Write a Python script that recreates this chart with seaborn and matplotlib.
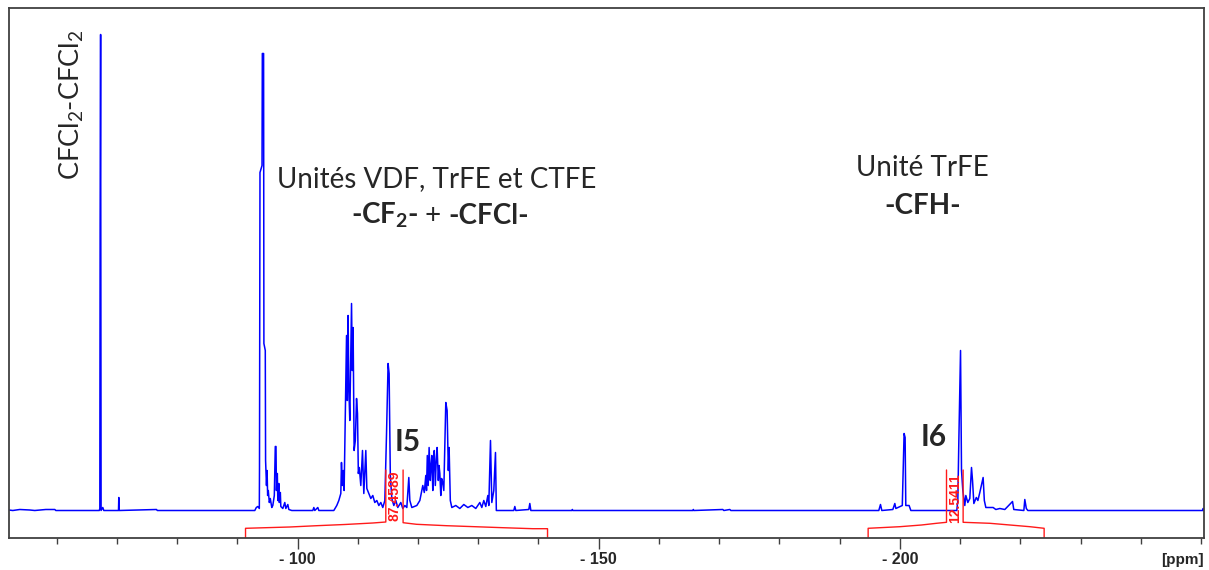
import seaborn as sns
import matplotlib.pyplot as plt

# 19F NMR spectrum (ppm, intensity above baseline)
shift_ppm = [
    -52.07, -52.73, -53.89, -55.55, -56.38, -58.21, -59.71, -59.87,
    -67.09, -67.18, -67.23, -67.31, -67.39, -67.67, -67.84,
    -70.28, -70.33, -70.41, -76.59, -76.72,
    -92.91, -93.16, -93.41, -93.66, -93.69, -93.77, -94.11, -94.16, -94.37, -94.42,
    -94.65, -94.70, -94.85, -94.95, -95.04, -95.15, -95.32, -95.48, -95.73, -95.90,
    -96.15, -96.23, -96.31, -96.43, -96.50, -96.65, -96.73, -96.90, -96.98, -97.15,
    -97.23, -97.56, -97.89, -98.06, -98.39, -98.56, -99.05,
    -102.54, -102.71, -102.87, -103.37, -103.54,
    -106.03, -106.52, -106.86, -107.19, -107.30, -107.44, -107.60, -107.74,
    -108.14, -108.27, -108.40, -108.52, -108.68, -108.97, -109.10, -109.23, -109.40,
    -109.60, -109.80, -109.96, -110.10, -110.26, -110.51, -110.79, -111.01, -111.34,
    -111.51, -111.84, -112.17, -112.50, -112.83, -113.17, -113.50, -113.83, -114.16,
    -114.50, -114.78, -115.04, -115.21, -115.41, -115.66, -115.99, -116.32, -116.65,
    -117.15, -117.48, -117.82, -118.15, -118.48, -118.65, -118.98, -119.81, -120.31,
    -120.80, -121.05, -121.30, -121.42, -121.55, -121.70, -121.85, -122.05, -122.18,
    -122.30, -122.46, -122.58, -122.71, -122.88, -123.03, -123.18, -123.38, -123.50,
    -123.63, -123.79, -123.92, -124.04, -124.29, -124.62, -124.84, -125.04, -125.17,
    -125.37, -125.62, -126.28, -126.95, -127.61, -128.28, -128.94, -129.60, -130.27,
    -130.60, -130.93, -131.26, -131.60, -131.76, -132.04, -132.26, -132.59, -132.87,
    -133.01, -135.91, -136.08, -136.24, -138.40, -138.57, -138.74,
    -145.54, -145.63, -145.71, -165.63, -165.72, -165.80,
    -170.61, -170.78, -171.78, -171.94,
    -196.51, -196.79, -197.01, -198.84, -199.17, -199.34, -200.41, -200.55, -200.71,
    -200.88, -200.99, -201.54, -201.83,
    -209.46, -209.63, -209.80, -210.08, -210.24, -210.46, -210.79, -210.96, -211.29,
    -211.62, -211.90, -212.07, -212.29, -212.70, -212.96, -213.28, -213.53, -213.83,
    -214.03, -214.28, -215.49, -215.94, -216.60, -217.43, -218.71, -218.92,
    -220.59, -220.75, -221.00, -221.25,
    -250.31, -250.36, -250.48,
]
intensity = [
    0.5, 0, 1, 0.5, 0, 1, 1, 0,
    0, 2, 285, 476, 0, 3, 0,
    0, 13, 0, 1, 0,
    0, 3, 4, 2, 42, 338, 345, 457, 457, 167,
    160, 50, 25, 40, 15, 20, 8, 12, 3, 5,
    15, 40, 64, 64, 20, 37, 10, 27, 8, 18,
    4, 2, 8, 2, 6, 1, 0,
    0, 3, 0, 3, 0,
    0, 5, 10, 17, 48, 25, 40, 20,
    175, 110, 195, 123, 90, 207, 140, 183, 60,
    70, 112, 97, 37, 43, 25, 60, 17, 60,
    22, 17, 12, 15, 8, 10, 5, 8, 3,
    10, 77, 147, 137, 35, 12, 5, 10, 3,
    8, 2, 5, 3, 33, 10, 3, 5, 10,
    25, 18, 35, 20, 55, 25, 63, 30, 45,
    55, 20, 48, 60, 25, 50, 63, 30, 45,
    37, 15, 32, 30, 20, 108, 100, 40, 63,
    10, 3, 5, 2, 6, 3, 5, 2, 8,
    3, 10, 4, 15, 5, 70, 8, 20, 58,
    0, 0, 4, 0, 1, 7, 0,
    0, 1, 0, 0, 1, 0,
    1, 0, 1, 0,
    0, 6, 0, 1, 7, 2, 5, 40, 77,
    73, 5, 5, 0,
    0, 10, 70, 160, 40, 20, 5, 15, 8,
    12, 43, 30, 7, 13, 10, 18, 25, 33,
    10, 3, 3, 1, 2, 1, 9, 1,
    0, 11, 2, 0,
    0, 2, 0,
]

# integral traces (left half / right half of each)
i5_left_ppm = [-91.37, -91.37, -98.72, -103.20, -107.85, -112.50, -114.66, -114.66]
i5_left_val = [-27.2, -17.8, -16.5, -15.2, -14.0, -12.5, -11.5, 40.5]
i5_right_ppm = [-117.53, -117.53, -119.76, -124.74, -129.44, -134.09, -139.07, -141.51, -141.51]
i5_right_val = [40.5, -12.2, -13.8, -15.2, -16.2, -17.2, -18.2, -18.2, -27.2]
i6_left_ppm = [-194.74, -194.74, -200.00, -203.60, -206.09, -207.75, -207.75]
i6_left_val = [-27.2, -17.8, -16.2, -14.5, -12.8, -11.8, 40.5]
i6_right_ppm = [-210.51, -210.51, -214.95, -218.27, -221.59, -223.96, -223.96]
i6_right_val = [40.5, -11.8, -12.8, -14.5, -16.2, -17.8, -27.2]
integral_labels = ['87.4589', '12.5411']

major_ticks = [-100, -150, -200]
major_labels = ['- 100', '- 150', '- 200']

sns.set_style('white')
plt.rcParams['font.family'] = ['Lato', 'DejaVu Sans']
plt.rcParams['mathtext.fontset'] = 'custom'
plt.rcParams['mathtext.rm'] = 'Lato'
plt.rcParams['mathtext.bf'] = 'Lato:bold'
plt.rcParams['mathtext.it'] = 'Lato:italic'

fig = plt.figure(figsize=(12.09, 5.70), dpi=100)
ax = fig.add_axes([0.00744, 0.05667, 0.98842, 0.92929])

sns.lineplot(x=shift_ppm, y=intensity, sort=False, estimator=None,
             color='#0000ff', linewidth=1.1, ax=ax)
for xs, ys in [(i5_left_ppm, i5_left_val), (i5_right_ppm, i5_right_val),
               (i6_left_ppm, i6_left_val), (i6_right_ppm, i6_right_val)]:
    sns.lineplot(x=xs, y=ys, sort=False, estimator=None,
                 color='#ff1a1a', linewidth=1.0, ax=ax)

ax.set_xlim(-52.1, -250.5)
ax.set_ylim(-27.2, 502.5)

# axis styling
ax.set_yticks([])
ax.set_xticks(major_ticks)
ax.set_xticklabels(major_labels, fontfamily='Liberation Sans', fontweight='bold', fontsize=11.5)
ax.set_xticks([v for v in range(-60, -251, -10) if v not in major_ticks], minor=True)
ax.tick_params(axis='x', which='major', direction='out', length=7.7, width=1.0,
               color='#404040', pad=2.5, bottom=True)
ax.tick_params(axis='x', which='minor', direction='out', length=4.1, width=1.0,
               color='#404040', bottom=True)
for sp in ax.spines.values():
    sp.set_color('#404040')
    sp.set_linewidth(1.3)
ax.set_xlabel('')
ax.set_ylabel('')

ax.text(1.0, -0.042, '[ppm]', transform=ax.transAxes, ha='right', va='center',
        fontfamily='Liberation Sans', fontweight='bold', fontsize=11)

# integral values, drawn over the spectrum
ax.text(-116.1, 15, integral_labels[0], rotation=90, color='#ff1a1a', ha='center', va='center',
        fontfamily='Liberation Sans', fontweight='bold', fontsize=10, zorder=5)
ax.text(-209.1, 12.5, integral_labels[1], rotation=90, color='#ff1a1a', ha='center', va='center',
        fontfamily='Liberation Sans', fontweight='bold', fontsize=10, zorder=5)

# annotations
fs = 20
ax.text(-62.5, 405.5, r'CFCl$_\mathrm{2}$-CFCl$_\mathrm{2}$', rotation=90,
        ha='center', va='center', fontsize=fs - 0.5)
ax.text(-123.1, 323.5, 'Unités VDF, TrFE et CTFE', ha='center', va='baseline', fontsize=fs)
t1 = ax.text(-108.8, 287, r'-CF$_\mathbf{2}$-', ha='left', va='baseline',
             fontsize=fs, fontweight='bold')
t2 = ax.annotate(' + ', xy=(1, 287), xycoords=(t1, 'data'), ha='left', va='baseline',
                 fontsize=fs)
ax.annotate('-CFCl-', xy=(1, 287), xycoords=(t2, 'data'), ha='left', va='baseline',
            fontsize=fs, fontweight='bold')
ax.text(-203.8, 334.5, 'Unité TrFE', ha='center', va='baseline', fontsize=fs)
ax.text(-203.8, 296.5, '-CFH-', ha='center', va='baseline', fontsize=fs, fontweight='bold')
ax.text(-118.3, 68, 'I5', ha='center', va='center', fontsize=fs + 1.5, fontweight='bold')
ax.text(-205.6, 73.8, 'I6', ha='center', va='center', fontsize=fs + 1.5, fontweight='bold')

plt.savefig('out.png', dpi=100)
